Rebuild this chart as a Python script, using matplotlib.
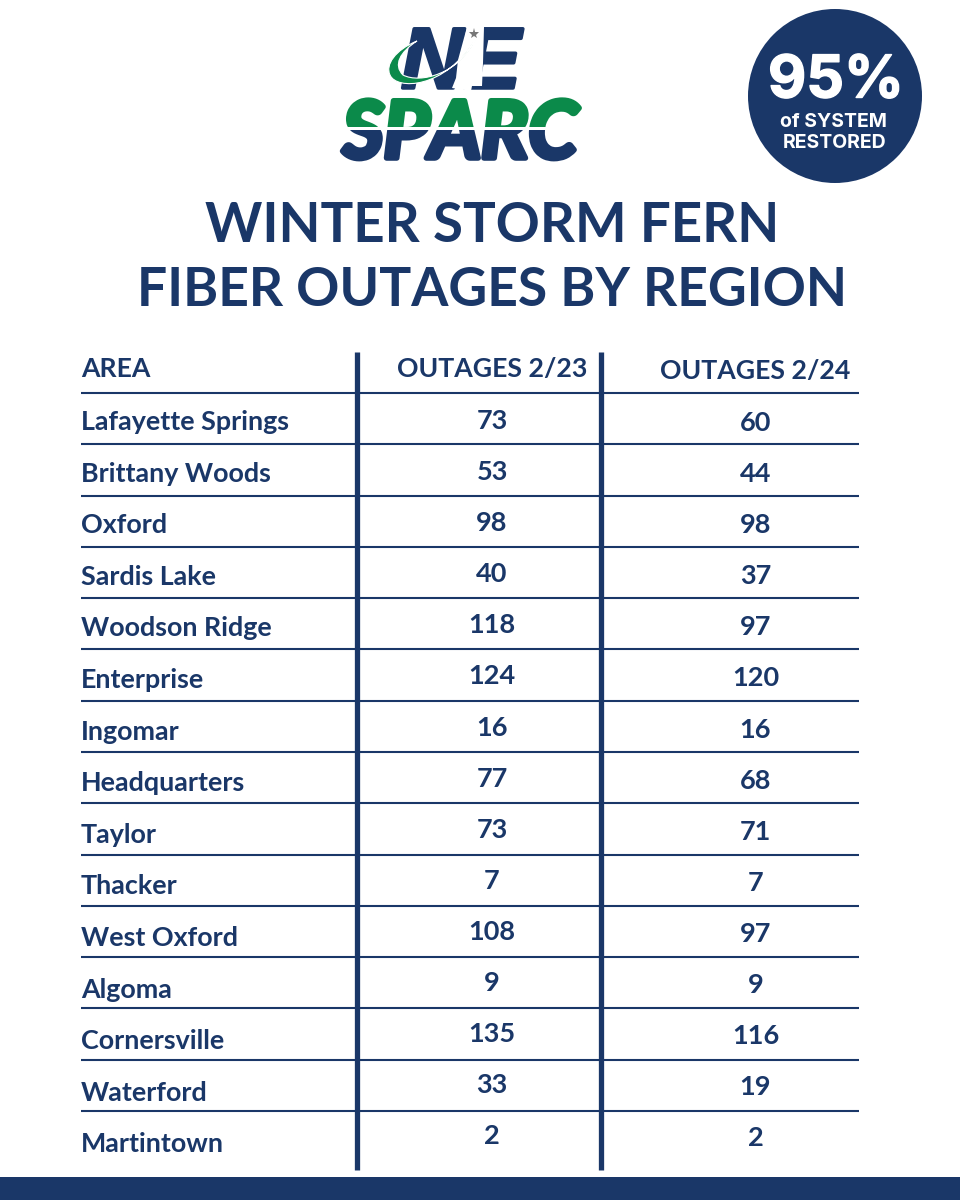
#!/usr/bin/env python
# coding=utf-8

import matplotlib
matplotlib.use("Agg")
import matplotlib.pyplot as plt
import matplotlib.patheffects as pe

from matplotlib.patches import Circle, Polygon, PathPatch, Rectangle
from matplotlib.path import Path

navy = "#1a3768"
green = "#0b8a4a"

areas = ["Lafayette Springs", "Brittany Woods", "Oxford", "Sardis Lake",
         "Woodson Ridge", "Enterprise", "Ingomar", "Headquarters", "Taylor",
         "Thacker", "West Oxford", "Algoma", "Cornersville", "Waterford",
         "Martintown"]
outages_23 = [73, 53, 98, 40, 118, 124, 16, 77, 73, 7, 108, 9, 135, 33, 2]
outages_24 = [60, 44, 98, 37, 97, 120, 16, 68, 71, 7, 97, 9, 116, 19, 2]
headers = ["AREA", "OUTAGES 2/23", "OUTAGES 2/24"]
title_lines = ["WINTER STORM FERN", "FIBER OUTAGES BY REGION"]

plt.rcParams["font.family"] = ["Lato", "DejaVu Sans"]

fig = plt.figure(figsize=(9.6, 12), dpi=100, facecolor="white")
ax = fig.add_axes([0, 0, 1, 1])
ax.set_xlim(0, 960)
ax.set_ylim(1200, 0)
ax.axis("off")


def draw_logo():
    ax.text(461, 57, "NE", color=navy, fontsize=62, weight="bold",
            style="italic", family="Liberation Sans", ha="center",
            va="center_baseline", zorder=2,
            path_effects=[pe.withStroke(linewidth=2.5, foreground=navy)])
    # state cut-out between the letters
    state = [(467, 27), (484, 27), (483, 63), (482, 86), (472, 86),
             (471, 91), (452, 88), (456, 78), (458, 60)]
    ax.add_patch(Polygon(state, fc="white", ec="none", zorder=3))
    verts = [(417, 41), (395, 50), (385, 65), (390, 75),
             (396, 90), (445, 90), (476, 38),
             (460, 74), (420, 84), (403, 75),
             (393, 65), (400, 52), (417, 41)]
    codes = [Path.MOVETO] + [Path.CURVE4] * 12
    ax.add_patch(PathPatch(Path(verts, codes), fc=green, ec="white", lw=0.8,
                           zorder=4))
    ax.plot([474], [34], marker="*", color="#777777", ms=8, mew=0, zorder=5)
    # SPARC is split in two colours by clipping the same text
    for color, top, height in [(green, 90, 37), (navy, 130, 40)]:
        txt = ax.text(460, 129, "SPARC", color=color, fontsize=57,
                      weight="bold", style="italic", ha="center",
                      va="center_baseline", zorder=2,
                      path_effects=[pe.withStroke(linewidth=4,
                                                  foreground=color)])
        txt.set_clip_on(True)
        txt.set_clip_path(Rectangle((300, top), 320, height,
                                    transform=ax.transData))


draw_logo()

# restored badge
ax.add_patch(Circle((835, 96), 87, fc=navy, ec="none"))
ax.text(836, 82, "95%", color="white", fontsize=42.5, weight="bold",
        family="Inter", ha="center", va="center",
        path_effects=[pe.withStroke(linewidth=1, foreground="white")])
ax.text(833, 122, "of SYSTEM", color="white", fontsize=14, weight="bold",
        family="Inter", ha="center", va="center")
ax.text(835, 143, "RESTORED", color="white", fontsize=14, weight="bold",
        family="Inter", ha="center", va="center")

# title
ax.text(492, 226, title_lines[0], color=navy, fontsize=39.3, weight="bold",
        ha="center", va="center")
ax.text(492, 290, title_lines[1], color=navy, fontsize=38.5, weight="bold",
        ha="center", va="center")

# table header
ax.text(81, 369, headers[0], color=navy, fontsize=19.2, weight="bold",
        ha="left", va="center")
ax.text(492, 369, headers[1], color=navy, fontsize=19.2, weight="bold",
        ha="center", va="center")
ax.text(755, 371, headers[2], color=navy, fontsize=19.2, weight="bold",
        ha="center", va="center")

# table rows
for i, (name, v23, v24) in enumerate(zip(areas, outages_23, outages_24)):
    line_y = 393 + i * 51.28
    ax.plot([81, 859], [line_y, line_y], color=navy, lw=1.5, zorder=1,
            solid_capstyle="butt")
    ax.text(81, 422 + i * 51.6, name, color=navy, fontsize=19.4, weight="bold",
            ha="left", va="center")
    ax.text(492, 421 + i * 51.1, str(v23), color=navy, fontsize=19.5,
            weight="bold", ha="center", va="center")
    ax.text(755.5, 423 + i * 51.1, str(v24), color=navy, fontsize=19.5,
            weight="bold", ha="center", va="center")

# column separators
for x in [357, 601]:
    ax.plot([x, x], [352, 1170], color=navy, lw=3.8, zorder=2,
            solid_capstyle="butt")

# footer band
ax.add_patch(Rectangle((0, 1177), 960, 23, fc=navy, ec="none"))

fig.savefig("out.png", dpi=100)
plt.close(fig)
